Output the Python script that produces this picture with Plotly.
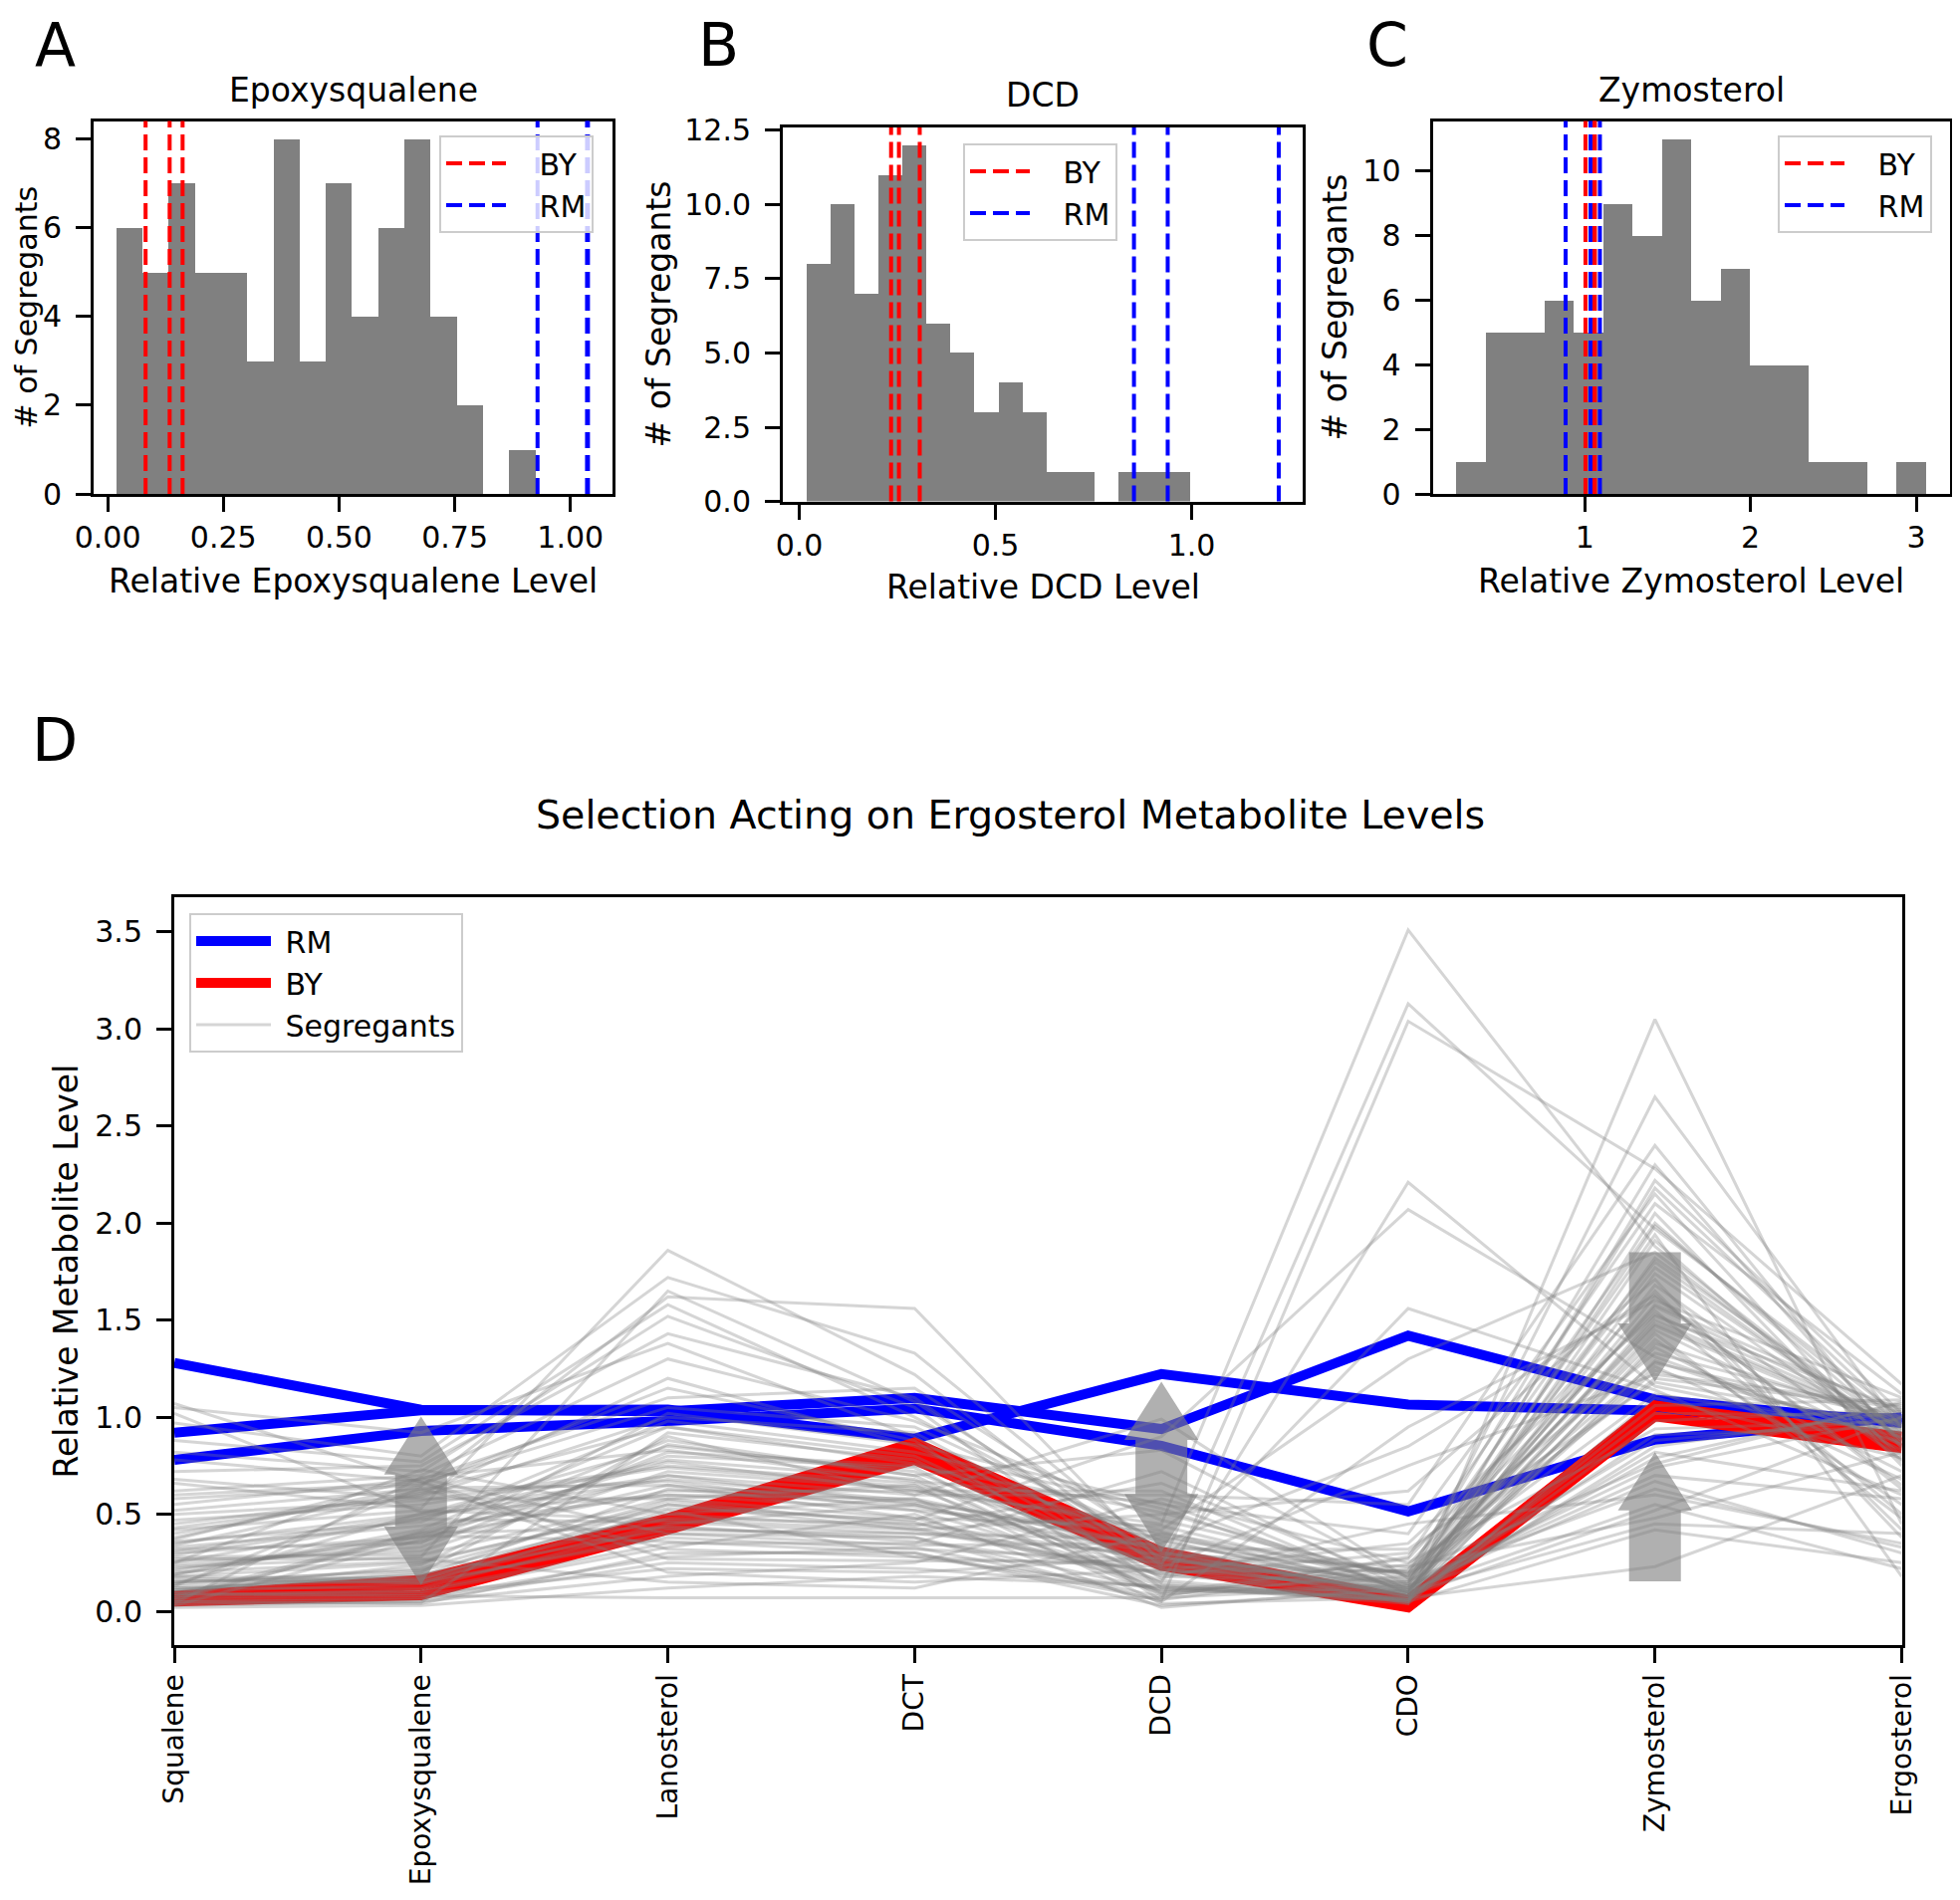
import plotly.graph_objects as go

metabolites = ["Squalene", "Epoxysqualene", "Lanosterol", "DCT", "DCD", "CDO", "Zymosterol", "Ergosterol"]

# parental strains, one list per replicate, values in metabolite order
rm_lines = [
    [1.28, 1.038, 1.03, 1.10, 0.939, 1.42, 1.091, 0.97],
    [0.92, 1.036, 1.04, 0.89, 1.222, 1.065, 1.034, 0.99],
    [0.78, 0.929, 0.98, 1.045, 0.853, 0.515, 0.884, 1.00],
]
by_lines = [
    [0.05, 0.082, 0.42, 0.78, 0.234, 0.02, 1.004, 0.84],
    [0.07, 0.134, 0.45, 0.83, 0.254, 0.05, 1.061, 0.87],
    [0.08, 0.162, 0.48, 0.87, 0.307, 0.06, 1.058, 0.90],
]

# segregants (74), one list per metabolite
squalene = [0.12, 0.45, 0.05, 0.30, 0.82, 0.18, 0.07, 0.25, 0.60, 0.10,
            0.35, 0.03, 0.15, 0.97, 0.22, 0.08, 0.40, 0.28, 0.55, 0.13,
            0.02, 0.19, 0.66, 0.33, 0.06, 0.11, 1.05, 0.24, 0.16, 0.38,
            0.09, 0.50, 0.27, 0.04, 0.72, 0.14, 0.21, 0.31, 0.17, 0.58,
            0.12, 0.36, 0.05, 0.88, 0.26, 0.20, 0.43, 0.09, 0.62, 0.15,
            0.03, 0.29, 1.07, 0.11, 0.34, 0.23, 0.07, 0.47, 0.18, 0.78,
            0.14, 0.32, 0.06, 0.52, 0.10, 0.25, 1.02, 0.19, 0.37, 0.08,
            0.68, 0.13, 0.42, 0.04]
epoxysqualene = [0.16, 0.60, 0.04, 0.38, 0.72, 0.25, 0.09, 0.48, 0.66, 0.14,
                 0.50, 0.05, 0.21, 0.80, 0.36, 0.11, 0.62, 0.29, 0.68, 0.17,
                 0.03, 0.40, 0.53, 0.44, 0.07, 0.19, 0.92, 0.33, 0.145, 0.645,
                 0.10, 0.57, 0.27, 0.045, 0.75, 0.22, 0.385, 0.49, 0.15, 0.65,
                 0.12, 0.46, 0.06, 0.77, 0.31, 0.26, 0.59, 0.08, 0.70, 0.18,
                 0.37, 0.475, 0.665, 0.20, 0.61, 0.28, 0.39, 0.55, 0.165, 0.67,
                 0.505, 0.35, 0.405, 0.63, 0.24, 0.73, 0.51, 0.42, 0.685, 0.41,
                 0.58, 0.635, 0.52, 0.69]
lanosterol = [0.45, 1.20, 0.30, 0.62, 1.52, 0.55, 0.22, 0.78, 1.05, 0.40,
              0.85, 0.18, 0.50, 1.72, 0.65, 0.35, 0.95, 0.58, 1.10, 0.48,
              0.12, 0.70, 1.86, 0.60, 0.28, 0.42, 1.38, 0.82, 0.52, 1.62,
              0.33, 0.75, 0.15, 0.92, 1.43, 0.57, 0.88, 0.68, 0.38, 1.15,
              0.44, 0.98, 0.25, 1.58, 0.72, 0.53, 1.00, 0.07, 1.30, 0.63,
              0.80, 0.46, 0.20, 0.90, 0.67, 1.65, 0.36, 0.74, 0.55, 0.27,
              0.60, 1.02, 0.43, 0.32, 0.86, 0.50, 0.70, 0.95, 0.40, 0.77,
              0.58, 0.65, 0.47, 0.83]
dct = [0.55, 0.85, 0.30, 0.62, 1.05, 0.42, 0.20, 0.68, 0.95, 0.38,
       0.72, 0.25, 0.58, 1.33, 0.48, 0.35, 0.80, 0.65, 1.15, 0.45,
       0.18, 0.60, 1.22, 0.52, 0.33, 0.40, 0.90, 0.75, 0.28, 1.56,
       0.50, 0.66, 0.12, 0.78, 1.10, 0.44, 0.70, 0.57, 0.32, 0.88,
       0.36, 0.82, 0.22, 1.00, 0.63, 0.47, 0.92, 0.07, 0.98, 0.54,
       0.74, 0.40, 0.15, 0.60, 0.52, 1.08, 0.30, 0.64, 0.46, 0.26,
       0.58, 0.86, 0.38, 0.28, 0.70, 0.43, 0.55, 0.76, 0.34, 0.62,
       0.48, 0.56, 0.42, 0.67]
dcd = [0.24, 0.31, 0.06, 0.45, 0.12, 0.19, 0.28, 0.10, 0.36, 0.05,
       0.22, 0.58, 0.09, 0.30, 0.15, 0.72, 0.21, 0.04, 0.34, 0.27,
       0.13, 0.99, 0.235, 0.41, 0.075, 0.29, 0.17, 0.51, 0.115, 0.25,
       0.02, 0.305, 0.40, 0.145, 0.225, 0.66, 0.082, 0.33, 0.265, 0.055,
       0.205, 0.53, 0.125, 0.32, 0.18, 0.90, 0.245, 0.07, 0.47, 0.285,
       0.095, 0.37, 0.215, 0.60, 0.16, 0.275, 0.03, 0.42, 0.135, 0.255,
       0.315, 0.55, 0.11, 0.23, 0.83, 0.195, 0.295, 0.39, 0.35, 0.62,
       0.44, 0.38, 0.50, 0.56]
cdo = [0.15, 0.08, 0.22, 3.51, 0.10, 0.30, 0.05, 0.18, 0.12, 0.95,
       0.06, 0.25, 0.14, 0.09, 2.21, 0.11, 0.35, 0.07, 0.20, 0.13,
       0.04, 0.17, 3.13, 0.10, 0.28, 0.08, 0.45, 0.16, 0.06, 1.56,
       0.12, 0.09, 0.19, 0.05, 0.75, 0.14, 0.24, 0.07, 0.11, 3.04,
       0.21, 0.10, 0.06, 0.32, 0.15, 2.07, 0.08, 0.13, 0.18, 0.04,
       0.27, 0.09, 0.12, 0.55, 0.05, 0.16, 0.11, 1.30, 0.07, 0.20,
       0.14, 0.40, 0.08, 0.10, 0.17, 0.06, 0.23, 0.12, 0.85, 0.09,
       0.13, 0.19, 0.62, 0.10]
zymosterol = [1.50, 0.82, 1.20, 1.88, 0.45, 1.33, 2.05, 1.12, 0.67, 1.60,
              1.74, 0.94, 1.40, 2.22, 1.16, 0.55, 1.53, 1.91, 0.76, 1.26,
              3.05, 1.47, 1.97, 1.68, 2.10, 1.29, 0.60, 1.57, 0.98, 1.14,
              0.88, 1.36, 1.80, 0.42, 1.22, 2.65, 1.55, 1.02, 1.45, 2.28,
              2.00, 1.62, 0.85, 1.18, 1.94, 1.31, 0.52, 0.70, 1.48, 1.10,
              1.65, 0.79, 1.24, 2.40, 1.38, 0.63, 1.52, 1.85, 0.23, 1.28,
              1.58, 2.15, 0.91, 1.43, 1.77, 1.06, 0.48, 2.18, 1.63, 1.82,
              0.74, 2.30, 1.71, 1.985]
ergosterol = [0.95, 0.62, 1.05, 0.88, 0.40, 1.00, 0.75, 0.92, 0.30, 1.10,
              0.85, 0.98, 0.55, 1.02, 0.90, 0.22, 0.96, 0.80, 1.08, 0.68,
              0.45, 0.93, 1.00, 0.78, 1.12, 0.87, 0.35, 0.97, 1.04, 0.60,
              0.99, 0.72, 0.89, 0.25, 1.06, 0.94, 0.50, 1.01, 0.83, 1.17,
              0.91, 0.65, 1.03, 0.96, 0.18, 0.86, 1.00, 0.58, 0.95, 0.79,
              0.42, 1.07, 0.92, 0.84, 0.97, 0.33, 1.04, 0.88, 0.70, 0.99,
              1.02, 0.77, 0.95, 0.48, 0.90, 1.09, 0.82, 0.98, 0.63, 0.93,
              1.00, 0.86, 0.38, 0.96]

# histogram panels: metabolite, bin start, bin width, 16 bins each
hist_metabolites = ["Epoxysqualene", "DCD", "Zymosterol"]
hist_bin_start = [0.0187, 0.018, 0.222]
hist_bin_size = [0.0566, 0.0612, 0.1771]

# selection arrows in panel D (category index, from, to)
arrow_x = [1, 4, 6, 6]
arrow_from = [0.137, 0.305, 1.85, 0.154]
arrow_to = [1.004, 1.183, 1.183, 0.82]
arrow_double = [True, True, False, False]

columns = [squalene, epoxysqualene, lanosterol, dct, dcd, cdo, zymosterol, ergosterol]

# page body keeps its 8px margin, so the figure is 16px smaller than the window
PAD = 8
W, H = 1968 - 2 * PAD, 1908 - 2 * PAD
FONT = "DejaVu Sans"
DASH = "16px,7px"
SEG_COLOR = "rgba(128,128,128,0.33)"
NB = "\u00a0"


def px(x):
    return (x - PAD) / W


def py(y):
    return 1 - (y - PAD) / H


def arrow_outline(c, y0, y1, double, head_w=0.30, shaft_w=0.21, head_l=0.30):
    d = 1 if y1 > y0 else -1
    hw, sw = head_w / 2, shaft_w / 2
    yb1 = y1 - d * head_l
    if double:
        yb0 = y0 + d * head_l
        xs = [c, c + hw, c + sw, c + sw, c + hw, c, c - hw, c - sw, c - sw, c - hw, c]
        ys = [y1, yb1, yb1, yb0, yb0, y0, yb0, yb0, yb1, yb1, y1]
    else:
        xs = [c - sw, c + sw, c + sw, c + hw, c, c - hw, c - sw, c - sw]
        ys = [y0, y0, yb1, yb1, y1, yb1, yb1, y0]
    return xs, ys


fig = go.Figure()
shapes = []

# ---- histograms A, B, C
hist_axes = [("x", "y", "legend"), ("x2", "y2", "legend2"), ("x3", "y3", "legend3")]
for k, name in enumerate(hist_metabolites):
    xa, ya, leg = hist_axes[k]
    col = metabolites.index(name)
    start, size = hist_bin_start[k], hist_bin_size[k]
    fig.add_trace(go.Histogram(x=columns[col], xbins=dict(start=start, end=start + 16 * size, size=size),
                               marker=dict(color="#808080", line=dict(width=0)),
                               xaxis=xa, yaxis=ya, showlegend=False, hoverinfo="skip"))
    for label, lines, color in [("BY", by_lines, "#ff0000"), ("RM", rm_lines, "#0000ff")]:
        for vals in lines:
            shapes.append(dict(type="line", xref=xa, yref=ya + " domain", x0=vals[col], x1=vals[col],
                               y0=0, y1=1, line=dict(color=color, width=4, dash=DASH)))
        fig.add_trace(go.Scatter(x=[None], y=[None], mode="lines", name=NB * 3 + label, legend=leg,
                                 line=dict(color=color, width=4, dash=DASH), xaxis=xa, yaxis=ya))

# ---- panel D parallel lines
xi = list(range(len(metabolites)))
for i, vals in enumerate(rm_lines):
    fig.add_trace(go.Scatter(x=xi, y=vals, mode="lines", name=NB + "RM", legend="legend4", showlegend=i == 0,
                             line=dict(color="#0000ff", width=10), xaxis="x4", yaxis="y4"))
for i, vals in enumerate(by_lines):
    fig.add_trace(go.Scatter(x=xi, y=vals, mode="lines", name=NB + "BY", legend="legend4", showlegend=i == 0,
                             line=dict(color="#ff0000", width=10), xaxis="x4", yaxis="y4"))
for s in range(len(squalene)):
    fig.add_trace(go.Scatter(x=xi, y=[c[s] for c in columns], mode="lines", name=NB + "Segregants",
                             legend="legend4", showlegend=s == 0, hoverinfo="skip",
                             line=dict(color=SEG_COLOR, width=3), xaxis="x4", yaxis="y4"))
for c, y0, y1, dbl in zip(arrow_x, arrow_from, arrow_to, arrow_double):
    ax, ay = arrow_outline(c, y0, y1, dbl)
    fig.add_trace(go.Scatter(x=ax, y=ay, mode="lines", fill="toself", fillcolor="rgba(128,128,128,0.62)",
                             line=dict(width=0), showlegend=False, hoverinfo="skip",
                             xaxis="x4", yaxis="y4"))

axis_style = dict(showline=True, mirror=True, linecolor="black", linewidth=3, ticks="outside",
                  ticklen=15, tickwidth=3, tickcolor="black", showgrid=False, zeroline=False,
                  automargin=False, tickfont=dict(size=30, color="black", family=FONT))
xhist = dict(axis_style, ticklabelstandoff=0)
yhist = dict(axis_style, ticklabelstandoff=8)

fig.update_layout(
    template="none",
    width=W, height=H, autosize=False, margin=dict(l=0, r=0, t=0, b=0),
    paper_bgcolor="white", plot_bgcolor="white", bargap=0,
    font=dict(family=FONT, size=30, color="black"),
    shapes=shapes,
    xaxis=dict(xhist, domain=[px(94), px(615)], range=[-0.0303, 1.091], tickvals=[0, 0.25, 0.5, 0.75, 1.0],
               tickformat=".2f", anchor="y"),
    yaxis=dict(yhist, domain=[py(496), py(121.5)], range=[0, 8.4], tickvals=[0, 2, 4, 6, 8], anchor="x"),
    xaxis2=dict(xhist, domain=[px(786), px(1308)], range=[-0.042, 1.283], tickvals=[0, 0.5, 1.0],
                tickformat=".1f", anchor="y2"),
    yaxis2=dict(yhist, domain=[py(503.5), py(128)], range=[0, 12.6], tickvals=[0, 2.5, 5, 7.5, 10, 12.5],
                tickformat=".1f", anchor="x2"),
    xaxis3=dict(xhist, domain=[px(1438.5), px(1958)], range=[0.0817, 3.204], tickvals=[1, 2, 3], anchor="y3"),
    yaxis3=dict(yhist, domain=[py(496), py(121.5)], range=[0, 11.55], tickvals=[0, 2, 4, 6, 8, 10], anchor="x3"),
    xaxis4=dict(axis_style, domain=[px(175), px(1909.5)], range=[0, 7], tickvals=xi, ticktext=metabolites,
                tickangle=-90, anchor="y4", ticklabelstandoff=0,
                tickfont=dict(size=28, color="black", family=FONT)),
    yaxis4=dict(axis_style, domain=[py(1652), py(901)], range=[-0.174, 3.679], ticklabelstandoff=8,
                tickvals=[0, 0.5, 1.0, 1.5, 2.0, 2.5, 3.0, 3.5], tickformat=".1f", anchor="x4"),
)

legend_style = dict(bgcolor="rgba(255,255,255,0.8)", bordercolor="#cccccc", borderwidth=2,
                    font=dict(size=30, family=FONT, color="black"), xanchor="left", yanchor="top",
                    itemwidth=60)
fig.update_layout(
    legend=dict(legend_style, x=px(441), y=py(136)),
    legend2=dict(legend_style, x=px(967), y=py(144)),
    legend3=dict(legend_style, x=px(1785), y=py(136)),
    legend4=dict(legend_style, x=px(190), y=py(917), itemwidth=75),
)

# panel letters sit at the very top of the figure
for t, x in [("A", 55.7), ("B", 721), ("C", 1393)]:
    fig.add_annotation(text=t, x=px(x), y=1, xref="paper", yref="paper", showarrow=False,
                       xanchor="center", yanchor="top", font=dict(size=60, family=FONT, color="black"))

texts = [
    ("D", 55, 743, 60, 0),
    ("Epoxysqualene", 354.5, 90.5, 33, 0), ("DCD", 1047, 95.5, 33, 0), ("Zymosterol", 1698, 90, 33, 0),
    ("Relative Epoxysqualene Level", 354.5, 583.5, 33, 0), ("Relative DCD Level", 1047, 589.2, 33, 0),
    ("Relative Zymosterol Level", 1698, 583, 33, 0),
    ("# of Segregants", 26.5, 309, 30, -90), ("# of Segregants", 660.5, 316, 33, -90),
    ("# of Segregants", 1340.5, 309, 33, -90),
    ("Selection Acting on Ergosterol Metabolite Levels", 1015, 818, 39.5, 0),
    ("Relative Metabolite Level", 66, 1276.5, 33, -90),
]
for t, x, y, size, ang in texts:
    fig.add_annotation(text=t, x=px(x), y=py(y), xref="paper", yref="paper", showarrow=False,
                       xanchor="center", yanchor="middle", textangle=ang,
                       font=dict(size=size, family=FONT, color="black"))

fig.write_html("out.html")
